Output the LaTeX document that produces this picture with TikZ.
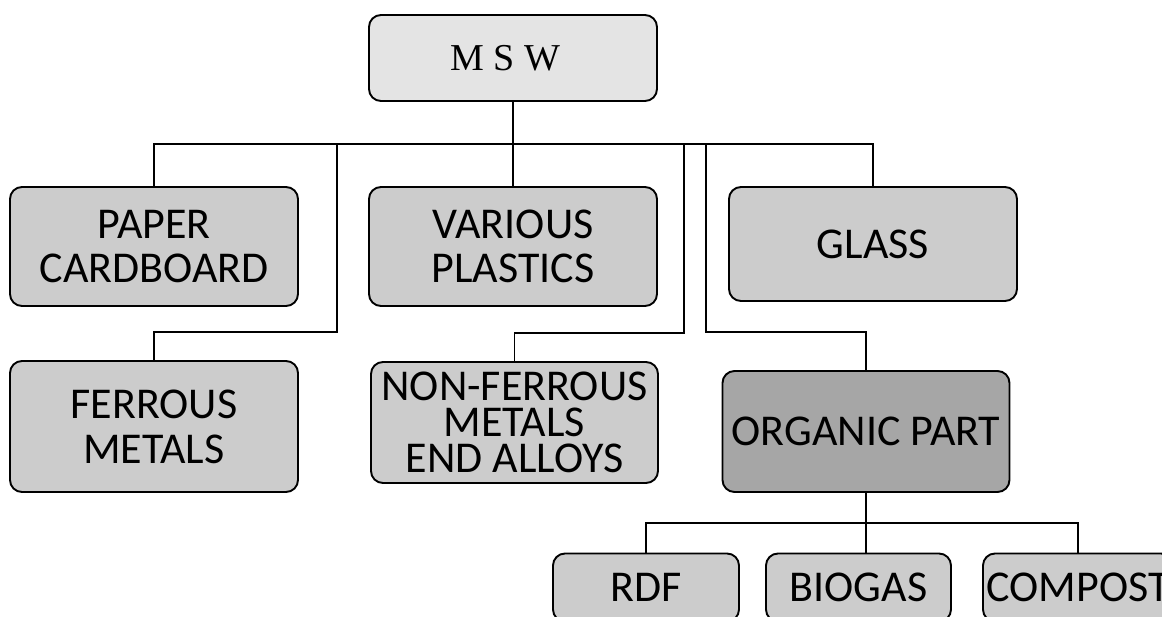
\documentclass[tikz,border=0pt]{standalone}
\usepackage{fontspec}
\setmainfont{Carlito}
\newfontfamily\timesfont{Liberation Serif}
\definecolor{mswgray}{HTML}{E4E4E4}
\definecolor{boxgray}{HTML}{CCCCCC}
\definecolor{orggray}{HTML}{A6A6A6}
\begin{document}
\begin{tikzpicture}[x=1pt,y=-1pt,line width=1.9pt,
  box/.style={draw,rounded corners=12pt,fill=boxgray,align=center,inner sep=0pt,
    font=\fontsize{44}{44}\selectfont},
  bigbox/.style={box,minimum width=288pt,minimum height=119pt},
  lowbox/.style={box,minimum height=68pt}]
\clip (0,0) rectangle (1162,616);
\fill[white] (0,0) rectangle (1162,616);
% top
\node[box,fill=mswgray,minimum width=288pt,minimum height=86pt,
  font=\timesfont\fontsize{38}{38}\selectfont] (msw) at (513,58) {M S W\hspace*{16pt}};
% first row
\node[bigbox] (paper) at (154,246.5) {PAPER\\CARDBOARD};
\node[bigbox] (various) at (513,246.5) {VARIOUS\\PLASTICS};
\node[bigbox,minimum height=114pt] (glass) at (873,244) {GLASS};
% second row
\node[bigbox,minimum height=131pt,font=\fontsize{44}{45}\selectfont] (ferrous) at (154,426.5) {FERROUS\\METALS};
\node[bigbox,minimum width=287pt,minimum height=121pt,font=\fontsize{44}{36}\selectfont] (nonferrous) at (514.5,422.5) {NON-FERROUS\\METALS\\END ALLOYS};
\node[bigbox,minimum width=287pt,minimum height=121pt,fill=orggray] (organic) at (866,431.5) {ORGANIC PART};
% products
\node[lowbox,minimum width=186pt] (rdf) at (646,587.5) {RDF};
\node[lowbox,minimum width=185pt] (biogas) at (858.5,587.5) {BIOGAS};
\node[lowbox,minimum width=190pt] (compost) at (1078,587.5) {COMPOST};
% connectors
\coordinate (bl) at (154,144);
\coordinate (br) at (873,144);
\coordinate (f1) at (337,144);
\coordinate (n1) at (684,144);
\coordinate (o1) at (706,144);
\coordinate (ob) at (866,523);
\draw (msw.south) -- (msw.south |- bl);
\draw (paper.north) -- (bl) -- (br) -- (glass.north);
\draw (various.north) -- (various.north |- bl);
\draw (ferrous.north) -- ++(0,-28) -| (f1);
\draw (nonferrous.north) -- ++(0,-28) -| (n1);
\draw (organic.north) -- ++(0,-38) -| (o1);
\draw (organic.south) -- (ob);
\draw (rdf.north) |- (ob) -| (compost.north);
\draw (ob) -- (ob |- biogas.north);
\end{tikzpicture}
\end{document}
